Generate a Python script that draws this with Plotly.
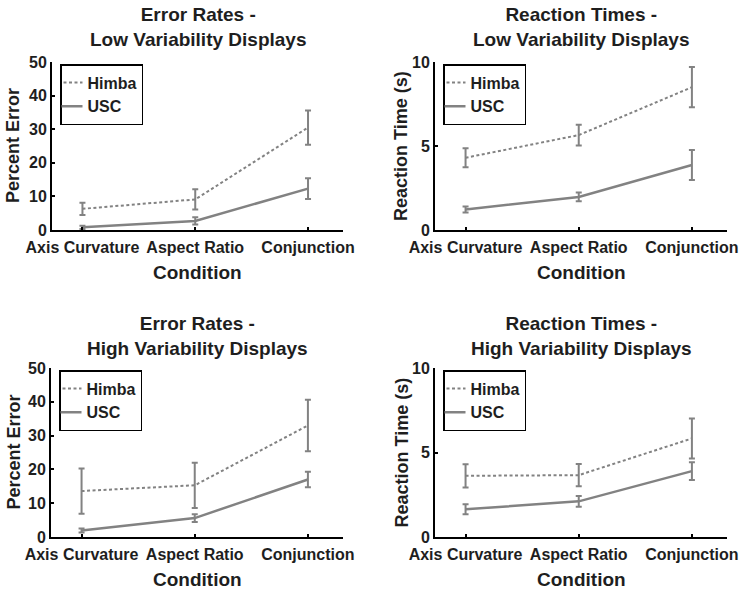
import plotly.graph_objects as go

categories = ["Axis Curvature", "Aspect Ratio", "Conjunction"]
cat_pos = [1, 2, 3]

# Error rates - low variability (percent)
err_low_himba = [6.3, 9.1, 30.5]
err_low_himba_se = [1.8, 3.0, 5.1]
err_low_usc = [0.8, 2.7, 12.3]
err_low_usc_se = [0.5, 1.1, 3.1]

# Reaction times - low variability (s)
rt_low_himba = [4.3, 5.65, 8.5]
rt_low_himba_se = [0.57, 0.62, 1.2]
rt_low_usc = [1.22, 1.97, 3.87]
rt_low_usc_se = [0.18, 0.26, 0.89]

# Error rates - high variability (percent)
err_high_himba = [13.6, 15.3, 33.0]
err_high_himba_se = [6.7, 6.7, 7.6]
err_high_usc = [1.9, 5.6, 17.0]
err_high_usc_se = [0.6, 1.15, 2.3]

# Reaction times - high variability (s)
rt_high_himba = [3.62, 3.66, 5.83]
rt_high_himba_se = [0.69, 0.66, 1.18]
rt_high_usc = [1.64, 2.11, 3.9]
rt_high_usc_se = [0.3, 0.32, 0.53]

titles = [
    "Error Rates -<br>Low Variability Displays",
    "Reaction Times -<br>Low Variability Displays",
    "Error Rates -<br>High Variability Displays",
    "Reaction Times -<br>High Variability Displays",
]
ytitles = ["Percent Error", "Reaction Time (s)", "Percent Error", "Reaction Time (s)"]
yranges = [[0, 50], [0, 10], [0, 50], [0, 10]]
ytickvals = [[0, 10, 20, 30, 40, 50], [0, 5, 10], [0, 10, 20, 30, 40, 50], [0, 5, 10]]

W, H = 742, 592
# panel pixel boxes (x0, x1, y_top, y_bottom)
boxes = [(52, 343, 62, 230), (435, 727, 62, 230), (51, 343, 368, 537), (435, 727, 368, 537)]

panels = [
    (err_low_himba, err_low_himba_se, err_low_usc, err_low_usc_se),
    (rt_low_himba, rt_low_himba_se, rt_low_usc, rt_low_usc_se),
    (err_high_himba, err_high_himba_se, err_high_usc, err_high_usc_se),
    (rt_high_himba, rt_high_himba_se, rt_high_usc, rt_high_usc_se),
]

GRAY = "#828282"
TXT = "#1e1e1e"
FONT = "Liberation Sans"

fig = go.Figure()
annotations = []
layout = {}

for i, (hm, hse, us, use) in enumerate(panels):
    n = "" if i == 0 else str(i + 1)
    xa, ya = "x" + n, "y" + n
    lg = "legend" + n
    fig.add_trace(go.Scatter(
        x=cat_pos, y=hm, mode="lines", name="Himba", xaxis=xa, yaxis=ya, legend=lg,
        line=dict(color=GRAY, width=2, dash="3px,2.5px"),
        error_y=dict(type="data", array=hse, color=GRAY, thickness=2, width=3),
    ))
    fig.add_trace(go.Scatter(
        x=cat_pos, y=us, mode="lines", name="USC", xaxis=xa, yaxis=ya, legend=lg,
        line=dict(color=GRAY, width=2.5),
        error_y=dict(type="data", array=use, color=GRAY, thickness=2, width=3),
    ))
    x0, x1, yt, yb = boxes[i]
    dx = [x0 / W, x1 / W]
    dy = [1 - yb / H, 1 - yt / H]
    tf = dict(family=FONT, size=16, color=TXT, weight="bold")
    layout["xaxis" + n] = dict(
        domain=dx, range=[0.73, 3.31], tickvals=cat_pos, ticktext=categories,
        showline=True, linecolor="black", linewidth=2, ticks="inside", ticklen=3,
        tickcolor="black", tickwidth=1.5, showgrid=False, zeroline=False,
        anchor=ya, tickfont=tf, automargin=False, ticklabelstandoff=2,
    )
    layout["yaxis" + n] = dict(
        domain=dy, range=yranges[i], tickvals=ytickvals[i],
        showline=True, linecolor="black", linewidth=2, ticks="inside", ticklen=3,
        tickcolor="black", tickwidth=1.5, showgrid=False, zeroline=False,
        anchor=xa, tickfont=tf, automargin=False,
    )
    layout[lg] = dict(
        x=(x0 + 8) / W, y=1 - (yt + 2) / H, xanchor="left", yanchor="top",
        bordercolor="black", borderwidth=1.5, bgcolor="white",
        font=dict(family=FONT, size=16, color=TXT, weight="bold"), itemwidth=30,
        tracegroupgap=0, indentation=-14,
    )
    cx = (x0 + x1) / 2 / W
    tyc = yt - 35 if i < 2 else yt - 32
    annotations.append(dict(
        text=titles[i], x=cx, y=1 - tyc / H, xref="paper", yref="paper",
        showarrow=False, font=dict(family=FONT, size=19, color=TXT, weight="bold"),
        xanchor="center", yanchor="middle",
    ))
    annotations.append(dict(
        text="Condition", x=cx, y=1 - (yb + 42) / H, xref="paper", yref="paper",
        showarrow=False, font=dict(family=FONT, size=19, color=TXT, weight="bold"),
        xanchor="center", yanchor="middle",
    ))
    ytx = 13 if i % 2 == 0 else 401
    annotations.append(dict(
        text=ytitles[i], x=ytx / W, y=1 - (yt + yb) / 2 / H,
        xref="paper", yref="paper", textangle=-90,
        showarrow=False, font=dict(family=FONT, size=18, color=TXT, weight="bold"),
        xanchor="center", yanchor="middle",
    ))

fig.update_layout(
    width=W, height=H, margin=dict(l=0, r=0, t=0, b=0, autoexpand=False),
    paper_bgcolor="white", plot_bgcolor="white",
    annotations=annotations, showlegend=True,
    **layout,
)

fig.write_html(
    "out.html",
    config={"displayModeBar": False},
    post_script="document.body.style.margin='0';document.documentElement.style.overflow='hidden';",
)
